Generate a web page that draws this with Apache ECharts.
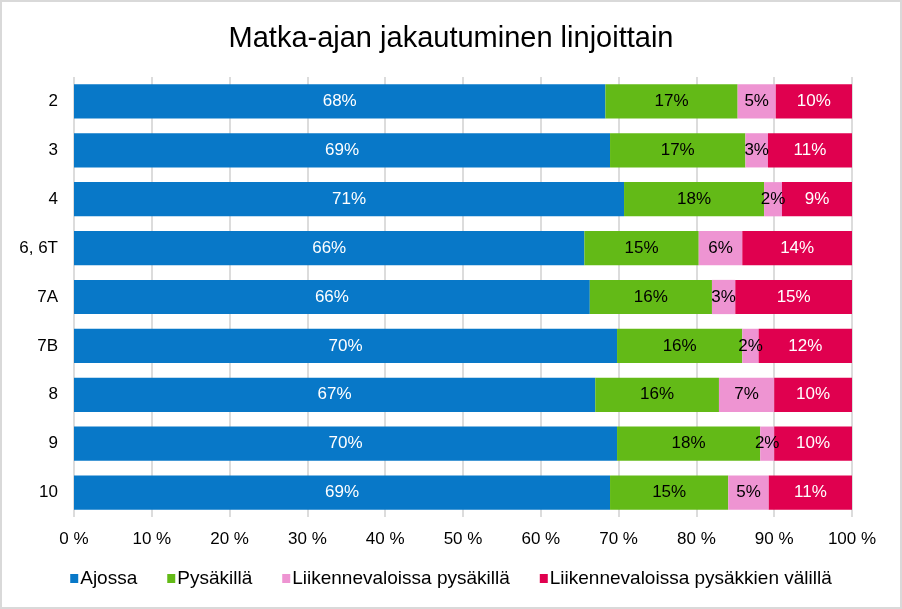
<!DOCTYPE html>
<html><head><meta charset="utf-8">
<script src="https://cdn.jsdelivr.net/npm/echarts@6/dist/echarts.min.js"></script>
<style>
html,body{margin:0;padding:0;background:#fff;}
#c{position:absolute;left:0;top:0;width:898px;height:605px;border:2px solid #d9d9d9;}
</style></head><body>
<div id="c"></div>
<script>
const categories = ['2','3','4','6, 6T','7A','7B','8','9','10'];
const seriesNames = ['Ajossa','Pysäkillä','Liikennevaloissa pysäkillä','Liikennevaloissa pysäkkien välillä'];
const ajossa     = [68.3, 68.9, 70.7, 65.6, 66.3, 69.8, 67.0, 69.8, 68.9];
const pysakilla  = [17.0, 17.4, 18.0, 14.7, 15.7, 16.1, 15.9, 18.4, 15.2];
const valoPys    = [4.9, 2.9, 2.3, 5.6, 3.0, 2.1, 7.1, 1.8, 5.2];
const valoValilla= [9.8, 10.8, 9.0, 14.1, 15.0, 12.0, 10.0, 10.0, 10.7];
const tickLabels = ['0 %','10 %','20 %','30 %','40 %','50 %','60 %','70 %','80 %','90 %','100 %'];

const FONT = '"Liberation Sans Narrow","Arial Narrow","Liberation Sans",Arial,sans-serif';
const colors = ['#0878C8','#63BA17','#EE94D2','#E0004F'];
const labelColors = ['#ffffff','#000000','#000000','#ffffff'];
const data = [ajossa, pysakilla, valoPys, valoValilla];

const chart = echarts.init(document.getElementById('c'), null, {renderer:'canvas'});
chart.setOption({
  animation:false,
  title:{text:'Matka-ajan jakautuminen linjoittain',left:'center',top:17,
    textStyle:{fontFamily:FONT,fontSize:29,fontWeight:'normal',color:'#000'}},
  grid:{left:72,right:48,top:75,bottom:90,containLabel:false},
  legend:{bottom:14,left:'center',itemWidth:8,itemHeight:9,itemGap:30,icon:'rect',
    textStyle:{fontFamily:FONT,fontSize:19,color:'#000',padding:[0,0,0,-3]},data:seriesNames},
  xAxis:{type:'value',min:0,max:100,interval:10,
    axisLine:{show:false},axisTick:{show:false},
    splitLine:{show:true,lineStyle:{color:'#d0d0d0',width:1.5}},
    axisLabel:{fontFamily:FONT,fontSize:17,color:'#000',margin:14,
      formatter:(v)=>tickLabels[Math.round(v/10)]}},
  yAxis:{type:'category',data:categories,inverse:true,
    axisLine:{show:false},axisTick:{show:false},
    axisLabel:{fontFamily:FONT,fontSize:17,color:'#000',margin:16}},
  series:seriesNames.map((n,i)=>({
    name:n,type:'bar',stack:'total',barWidth:'70%',data:data[i],
    itemStyle:{color:colors[i]},
    label:{show:true,position:'inside',fontFamily:FONT,fontSize:17,color:labelColors[i],
      formatter:(p)=>Math.round(p.value)+'%'}
  }))
});
</script>
</body></html>
